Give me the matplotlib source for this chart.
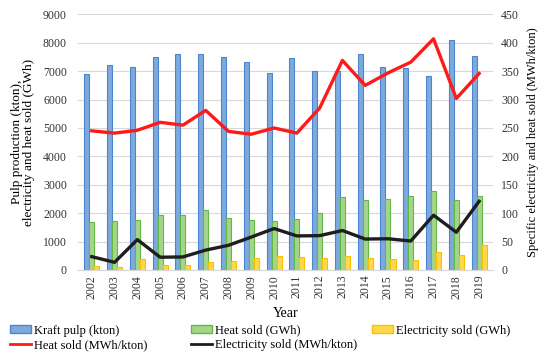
import numpy as np
import matplotlib
matplotlib.use("Agg")
import matplotlib.pyplot as plt
from matplotlib.patches import Patch
from matplotlib.lines import Line2D

plt.rcParams['font.family'] = ['Liberation Serif', 'DejaVu Serif']

# data
years = [str(y) for y in range(2002, 2020)]
kraft_pulp = [6900, 7230, 7160, 7500, 7590, 7590, 7500, 7310, 6930, 7450,
              7000, 7000, 7620, 7160, 7100, 6830, 8100, 7530]
heat_gwh = [1690, 1730, 1765, 1950, 1940, 2130, 1820, 1750, 1725, 1785,
            2000, 2580, 2480, 2510, 2600, 2770, 2460, 2600]
elec_gwh = [150, 105, 390, 175, 175, 270, 330, 425, 505, 450,
            425, 480, 425, 400, 355, 650, 540, 895]
heat_spec = [245, 241, 246, 260, 255, 281, 244, 239, 250, 241,
             285, 369, 325, 347, 366, 407, 302, 346]
elec_spec = [23.5, 13.5, 53.5, 22.5, 23, 35, 43.5, 58, 73, 60,
             60.5, 69.5, 54.5, 55, 51, 96.5, 66.5, 121]

x = np.arange(len(years))
w = 0.22

fig = plt.figure(figsize=(5.5, 3.6), dpi=100)
ax = fig.add_axes([0.142, 0.25, 0.754, 0.71])
ax2 = ax.twinx()

ax.bar(x - w, kraft_pulp, w, color='#7EA9DC', edgecolor='#4A86D0', linewidth=0.8, zorder=3)
ax.bar(x, heat_gwh, w, color='#A6D58A', edgecolor='#62B845', linewidth=0.8, zorder=3)
ax.bar(x + w, elec_gwh, w, color='#FFD84D', edgecolor='#F8C000', linewidth=0.8, zorder=3)

ax2.plot(x, heat_spec, color='#FF1A1A', lw=2.4)
ax2.plot(x, elec_spec, color='#1E1E1E', lw=2.4)

ax.set_xlim(-0.6, len(years) - 0.4)
ax.set_ylim(0, 9000)
ax.set_yticks(range(0, 9001, 1000))
ax2.set_ylim(0, 450)
ax2.set_yticks(range(0, 451, 50))
ax.set_xticks(x)
ax.set_xticklabels(years, rotation=90, fontsize=8.5)
ax.grid(axis='y', color='#D9D9D9', lw=0.8, zorder=0)
ax.set_axisbelow(True)

for a in (ax, ax2):
    for s in ('top', 'left', 'right'):
        a.spines[s].set_visible(False)
    a.spines['bottom'].set_color('#D9D9D9')
    a.tick_params(length=0, labelsize=8.5, colors='#333333')
ax.tick_params(axis='y', pad=8)
ax2.tick_params(axis='y', pad=6)

ax.set_xlabel('Year', fontsize=10, labelpad=6)
ax.set_ylabel('Pulp production (kton),\nelectricity and heat sold (GWh)', fontsize=9.5,
              linespacing=1.0, labelpad=6)
ax2.set_ylabel('Specific electricity and heat sold (MWh/kton)', fontsize=9, labelpad=6)

cols = [
    ([Patch(facecolor='#7EA9DC', edgecolor='#4A86D0'), Line2D([], [], color='#FF1A1A', lw=2)],
     ['Kraft pulp (kton)', 'Heat sold (MWh/kton)'], 10),
    ([Patch(facecolor='#A6D58A', edgecolor='#62B845'), Line2D([], [], color='#1E1E1E', lw=2)],
     ['Heat sold (GWh)', 'Electricity sold (MWh/kton)'], 191),
    ([Patch(facecolor='#FFD84D', edgecolor='#F8C000')],
     ['Electricity sold (GWh)'], 372),
]
for h, l, xpos in cols:
    fig.legend(h, l, loc='upper left', bbox_to_anchor=(xpos / 550, 0.098),
               frameon=False, fontsize=9, handlelength=1.7, handleheight=0.6,
               handletextpad=0.2, labelspacing=0.2, borderpad=0, borderaxespad=0)

fig.savefig('out.png', dpi=100)
